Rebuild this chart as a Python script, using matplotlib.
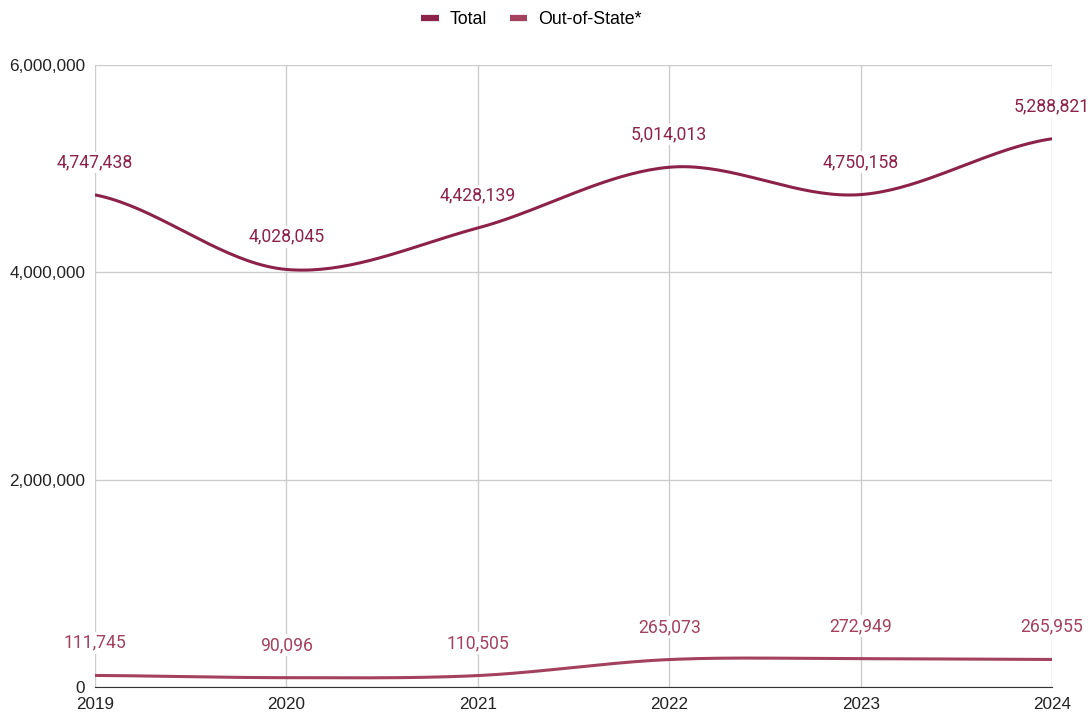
import numpy as np
import matplotlib.pyplot as plt

# 数据
years = [2019, 2020, 2021, 2022, 2023, 2024]
total = [4747438, 4028045, 4428139, 5014013, 4750158, 5288821]
out_of_state = [111745, 90096, 110505, 265073, 272949, 265955]

c_total = '#8c2249'
c_out = '#a3415f'


def smooth(x, y, n=40):
    # Catmull-Rom 平滑曲线
    x = np.asarray(x, float)
    y = np.asarray(y, float)
    px = np.concatenate([[2 * x[0] - x[1]], x, [2 * x[-1] - x[-2]]])
    py = np.concatenate([[y[0]], y, [y[-1]]])
    xs, ys = [], []
    t = np.linspace(0, 1, n)
    for i in range(1, len(px) - 2):
        m0 = (py[i + 1] - py[i - 1]) / 2
        m1 = (py[i + 2] - py[i]) / 2
        h00 = 2 * t**3 - 3 * t**2 + 1
        h10 = t**3 - 2 * t**2 + t
        h01 = -2 * t**3 + 3 * t**2
        h11 = t**3 - t**2
        xs.append(px[i] + t * (px[i + 1] - px[i]))
        ys.append(h00 * py[i] + h10 * m0 + h01 * py[i + 1] + h11 * m1)
    return np.concatenate(xs), np.concatenate(ys)


fig = plt.figure(figsize=(10.91, 7.17), dpi=100)
ax = fig.add_axes([0.0871, 0.0418, 0.8772, 0.8675])

for yy, c, lab in [(total, c_total, 'Total'), (out_of_state, c_out, 'Out-of-State*')]:
    sx, sy = smooth(years, yy)
    ax.plot(sx, sy, color=c, lw=2.2, label=lab, solid_capstyle='butt', zorder=3)
    for xv, yv in zip(years, yy):
        ax.annotate('{:,}'.format(yv), (xv, yv), xytext=(0, 17), textcoords='offset points',
                    ha='center', va='bottom', color=c, fontsize=12.7, family='Roboto',
                    bbox=dict(boxstyle='square,pad=0.1', fc='white', ec='none'), zorder=4)

ax.set_xlim(2019, 2024)
ax.set_ylim(0, 6000000)
ax.set_xticks(years)
ax.set_yticks([0, 2000000, 4000000, 6000000])
ax.set_yticklabels(['0', '2,000,000', '4,000,000', '6,000,000'])
ax.grid(True, color='#cccccc', lw=1)
ax.set_axisbelow(True)
for s in ['top', 'right', 'left']:
    ax.spines[s].set_visible(False)
ax.spines['bottom'].set_color('#333333')
ax.tick_params(length=0, labelsize=12.3, colors='#222222', pad=7)
for t in ax.get_xticklabels() + ax.get_yticklabels():
    t.set_family('Liberation Sans')

leg = fig.legend(loc='center', bbox_to_anchor=(0.487, 0.973), ncol=2, frameon=False,
                 prop={'family': 'Liberation Sans', 'size': 12.8}, handlelength=1.0,
                 columnspacing=1.27, handletextpad=0.6)
for h in leg.get_lines():
    h.set_linewidth(4.5)

plt.savefig('out.png', dpi=100)
